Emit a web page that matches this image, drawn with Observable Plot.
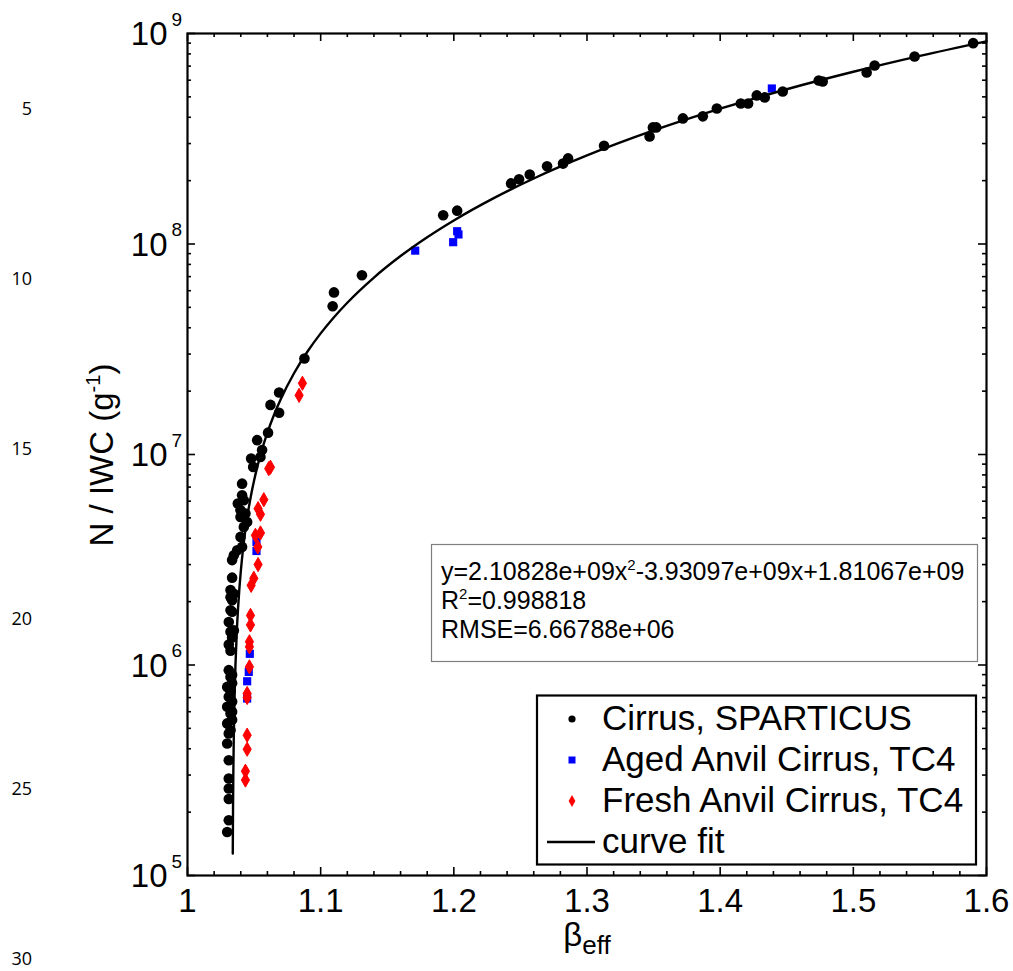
<!DOCTYPE html>
<html>
<head>
<meta charset="utf-8">
<script src="https://cdn.jsdelivr.net/npm/d3@7"></script>
<script src="https://cdn.jsdelivr.net/npm/@observablehq/plot@0.6"></script>
<style>
  html, body { margin: 0; padding: 0; background: #ffffff; }
  #chart svg { display: block; overflow: visible; }
</style>
</head>
<body>
<div id="chart"></div>
<script>
// ---------------- DATA ----------------
// Cirrus, SPARTICUS  (beta_eff, N/IWC in g^-1)
const sparticusBeta = [
  1.590, 1.546, 1.516, 1.510, 1.474, 1.477, 1.447, 1.4335, 1.4275, 1.421, 1.4155, 1.3975,
  1.387, 1.372, 1.3495, 1.347, 1.352, 1.3128, 1.2858, 1.282, 1.270, 1.257, 1.249, 1.243,
  1.2025, 1.192, 1.131, 1.110, 1.109, 1.0878,
  1.0688, 1.0623, 1.0688, 1.0605, 1.0523, 1.056, 1.0548, 1.0478, 1.0493, 1.041, 1.041, 1.0423,
  1.0378, 1.0398, 1.0435, 1.0398, 1.0448, 1.0423, 1.0398, 1.041, 1.0348, 1.0335, 1.0373, 1.0335,
  1.0323, 1.0348, 1.0335, 1.0323,
  1.0335, 1.0323, 1.0348, 1.0323, 1.031, 1.0323, 1.0298, 1.031, 1.0298, 1.0323, 1.0298, 1.031,
  1.0298, 1.031, 1.031, 1.031, 1.031, 1.031, 1.0298,
  1.0335, 1.0335, 1.0323, 1.0335, 1.0335, 1.0335, 1.0323, 1.031, 1.0335, 1.031, 1.0323
];
const sparticusNIWC = [
  9.0e8, 7.78e8, 7.05e8, 6.53e8, 5.98e8, 5.92e8, 5.3e8, 4.97e8, 5.08e8, 4.65e8, 4.65e8, 4.4e8,
  4.04e8, 3.95e8, 3.58e8, 3.24e8, 3.58e8, 2.93e8, 2.55e8, 2.41e8, 2.34e8, 2.14e8, 2.03e8, 1.94e8,
  1.44e8, 1.37e8, 7.1e7, 5.89e7, 5.06e7, 2.86e7,
  1.97e7, 1.72e7, 1.58e7, 1.27e7, 1.17e7, 1.05e7, 9.73e6, 9.57e6, 8.73e6, 7.27e6, 6.4e6, 6.06e6,
  5.85e6, 5.43e6, 5.24e6, 5.05e6, 4.78e6, 4.53e6, 4.06e6, 3.64e6, 3.32e6, 3.15e6, 3.51e6, 2.6e6,
  2.27e6, 2.18e6, 2.03e6, 1.82e6,
  1.79e6, 1.44e6, 1.46e6, 1.17e6, 9.45e5, 8.78e5, 7.87e5, 7.06e5, 6.33e5, 5.89e5, 5.28e5, 4.73e5,
  4.24e5, 3.53e5, 2.89e5, 2.59e5, 2.31e5, 1.83e5, 1.61e5,
  9.0e5, 8.2e5, 7.5e5, 6.7e5, 6.0e5, 5.5e5, 4.9e5, 1.25e6, 1.35e6, 1.6e6, 2.1e6
];

// Aged Anvil Cirrus, TC4
const agedBeta = [1.4388, 1.2025, 1.2035, 1.1995, 1.171, 1.0518, 1.0518, 1.0468, 1.046, 1.0448, 1.0448];
const agedNIWC = [5.48e8, 1.15e8, 1.11e8, 1.02e8, 9.3e7, 3.84e6, 3.48e6, 1.13e6, 9.27e5, 8.37e5, 6.93e5];

// Fresh Anvil Cirrus, TC4
const freshBeta = [
  1.0863, 1.0838, 1.061, 1.0623, 1.0573, 1.053, 1.0548, 1.051, 1.0548, 1.0528, 1.053, 1.0498,
  1.0478, 1.0473, 1.0473, 1.0465, 1.0465, 1.0465, 1.0448, 1.0448, 1.0448, 1.0448, 1.0435, 1.0435
];
const freshNIWC = [
  2.18e7, 1.91e7, 8.57e6, 8.7e6, 6.1e6, 5.53e6, 5.2e6, 4.13e6, 4.24e6, 3.64e6, 3.0e6, 2.58e6,
  2.39e6, 1.72e6, 1.55e6, 1.29e6, 1.22e6, 9.8e5, 7.32e5, 7.01e5, 4.64e5, 3.98e5, 3.13e5, 2.84e5
];

// Quadratic curve fit, coefficients as printed on the chart: y = a x^2 + b x + c
const fitCoefficients = [2.10828e9, -3.93097e9, 1.81067e9];
const fitBeta = [
  1.0340, 1.0341, 1.0342, 1.0344, 1.0347, 1.035, 1.0355, 1.036, 1.037, 1.038, 1.039, 1.04,
  1.042, 1.044, 1.046, 1.048, 1.05, 1.055, 1.06, 1.065, 1.07, 1.08, 1.09, 1.1, 1.11, 1.12,
  1.14, 1.16, 1.18, 1.2, 1.23, 1.26, 1.3, 1.35, 1.4, 1.45, 1.5, 1.55, 1.6
];

// Ticks and labels
const xMajorTicks = [1, 1.1, 1.2, 1.3, 1.4, 1.5, 1.6];
const xTickLabels = ["1", "1.1", "1.2", "1.3", "1.4", "1.5", "1.6"];
const xMinorTicks = [1.02, 1.04, 1.06, 1.08, 1.12, 1.14, 1.16, 1.18, 1.22, 1.24, 1.26, 1.28,
  1.32, 1.34, 1.36, 1.38, 1.42, 1.44, 1.46, 1.48, 1.52, 1.54, 1.56, 1.58];
const yMajorTicks = [1e5, 1e6, 1e7, 1e8, 1e9];
const yTickBases = ["10", "10", "10", "10", "10"];
const yTickExponents = ["5", "6", "7", "8", "9"];
const yMinorMultipliers = [2, 3, 4, 5, 6, 7, 8, 9];
const yMinorDecades = [1e5, 1e6, 1e7, 1e8];

const seriesLabels = ["Cirrus, SPARTICUS", "Aged Anvil Cirrus, TC4", "Fresh Anvil Cirrus, TC4", "curve fit"];
const fitTextLine1 = ["y=2.10828e+09x", "2", "-3.93097e+09x+1.81067e+09"];
const fitTextLine2 = ["R", "2", "=0.998818"];
const fitTextLine3 = "RMSE=6.66788e+06";
const yTitleParts = ["N / IWC (g", "-1", ")"];
const xTitleParts = ["\u03B2", "eff"];
const lineNumbers = ["5", "10", "15", "20", "25", "30"];

// ---------------- CHART ----------------
const W = 1013, H = 971;
const mTop = 33, mRight = 27, mBottom = 96, mLeft = 187;
const plotW = W - mLeft - mRight;
const plotH = H - mTop - mBottom;
const FONT = '"Liberation Sans", Arial, Helvetica, sans-serif';

const rows = (xs, ys) => xs.map((x, i) => ({x, y: ys[i]}));
const sparticus = rows(sparticusBeta, sparticusNIWC);
const aged = rows(agedBeta, agedNIWC);
const fresh = rows(freshBeta, freshNIWC);
const fit = fitBeta.map(x => ({x, y: fitCoefficients[0] * x * x + fitCoefficients[1] * x + fitCoefficients[2]}));
const yMinorTicks = yMinorDecades.flatMap(d => yMinorMultipliers.map(m => m * d));

const chart = Plot.plot({
  width: W,
  height: H,
  marginTop: mTop,
  marginRight: mRight,
  marginBottom: mBottom,
  marginLeft: mLeft,
  x: {domain: [1, 1.6], axis: null},
  y: {type: "log", domain: [1e5, 1e9], axis: null},
  style: {fontFamily: FONT, background: "#ffffff", color: "#000000"},
  marks: [
    Plot.dot(sparticus, {x: "x", y: "y", r: 5.3, symbol: "circle", fill: "#000000"}),
    Plot.dot(aged, {x: "x", y: "y", r: 4.6, symbol: "square", fill: "#0000ff"}),
    Plot.dot(fresh, {x: "x", y: "y", r: 4.3, symbol: "diamond", fill: "#ff0000", stroke: "#ff0000", strokeWidth: 1}),
    Plot.line(fit, {x: "x", y: "y", stroke: "#000000", strokeWidth: 2.4, curve: "monotone-x"}),
    // inward ticks on all four sides
    Plot.tickX(xMajorTicks, {x: d => d, insetTop: plotH - 8, stroke: "#000", strokeWidth: 1.6}),
    Plot.tickX(xMajorTicks, {x: d => d, insetBottom: plotH - 8, stroke: "#000", strokeWidth: 1.6}),
    Plot.tickX(xMinorTicks, {x: d => d, insetTop: plotH - 4, stroke: "#000", strokeWidth: 1.6}),
    Plot.tickX(xMinorTicks, {x: d => d, insetBottom: plotH - 4, stroke: "#000", strokeWidth: 1.6}),
    Plot.tickY(yMajorTicks, {y: d => d, insetRight: plotW - 8, stroke: "#000", strokeWidth: 1.6}),
    Plot.tickY(yMajorTicks, {y: d => d, insetLeft: plotW - 8, stroke: "#000", strokeWidth: 1.6}),
    Plot.tickY(yMinorTicks, {y: d => d, insetRight: plotW - 4, stroke: "#000", strokeWidth: 1.6}),
    Plot.tickY(yMinorTicks, {y: d => d, insetLeft: plotW - 4, stroke: "#000", strokeWidth: 1.6}),
    Plot.frame({stroke: "#000000", strokeWidth: 2.2}),
    // tick labels
    Plot.text(xMajorTicks, {x: d => d, frameAnchor: "bottom", text: (d, i) => xTickLabels[i],
      lineAnchor: "top", dy: 13, fontSize: 33, fill: "#000"}),
    Plot.text(yMajorTicks, {y: d => d, frameAnchor: "left", text: (d, i) => yTickBases[i],
      textAnchor: "end", lineAnchor: "middle", dx: -20, dy: 1, fontSize: 33, fill: "#000"}),
    Plot.text(yMajorTicks, {y: d => d, frameAnchor: "left", text: (d, i) => yTickExponents[i],
      textAnchor: "start", lineAnchor: "middle", dx: -16, dy: -14, fontSize: 19, fill: "#000"})
  ]
});

document.getElementById("chart").appendChild(chart);

// ---------------- annotations added to the SVG ----------------
const svg = d3.select(chart);
const g = svg.append("g").attr("font-family", FONT).attr("fill", "#000").attr("text-anchor", "start");

// y-axis title
const yt = g.append("text")
  .attr("transform", "translate(113,455) rotate(-90)")
  .attr("text-anchor", "middle")
  .attr("font-size", 33);
yt.append("tspan").text(yTitleParts[0]);
yt.append("tspan").attr("dy", -13).attr("font-size", 20).text(yTitleParts[1]);
yt.append("tspan").attr("dy", 13).text(yTitleParts[2]);

// x-axis title
const xt = g.append("text")
  .attr("x", 587).attr("y", 946)
  .attr("text-anchor", "middle")
  .attr("font-size", 33);
xt.append("tspan").text(xTitleParts[0]);
xt.append("tspan").attr("dy", 8).attr("font-size", 26).text(xTitleParts[1]);

// fit annotation box
const ann = g.append("g");
ann.append("rect").attr("x", 431.5).attr("y", 544.5).attr("width", 546).attr("height", 117)
  .attr("fill", "#ffffff").attr("stroke", "#7f7f7f").attr("stroke-width", 1.2);
const a1 = ann.append("text").attr("x", 441).attr("y", 580).attr("font-size", 25);
a1.append("tspan").text(fitTextLine1[0]);
a1.append("tspan").attr("dy", -10).attr("font-size", 15).text(fitTextLine1[1]);
a1.append("tspan").attr("dy", 10).text(fitTextLine1[2]);
const a2 = ann.append("text").attr("x", 441).attr("y", 609).attr("font-size", 25);
a2.append("tspan").text(fitTextLine2[0]);
a2.append("tspan").attr("dy", -10).attr("font-size", 15).text(fitTextLine2[1]);
a2.append("tspan").attr("dy", 10).text(fitTextLine2[2]);
ann.append("text").attr("x", 441).attr("y", 637.5).attr("font-size", 25).text(fitTextLine3);

// legend box
const lg = g.append("g");
lg.append("rect").attr("x", 537).attr("y", 695.5).attr("width", 439).attr("height", 169)
  .attr("fill", "#ffffff").attr("stroke", "#000000").attr("stroke-width", 2.2);
const rowBase = [730, 771, 812, 853];
seriesLabels.forEach((lab, i) => {
  lg.append("text").attr("x", 602).attr("y", rowBase[i]).attr("font-size", 35).text(lab);
});
lg.append("path").attr("transform", "translate(572,719)")
  .attr("d", d3.symbol(d3.symbolCircle, Math.PI * 3.6 * 3.6)()).attr("fill", "#000");
lg.append("path").attr("transform", "translate(572,760)")
  .attr("d", d3.symbol(d3.symbolSquare, 49)()).attr("fill", "#0000ff");
lg.append("path").attr("transform", "translate(572,801)")
  .attr("d", d3.symbol(d3.symbolDiamond, 40)()).attr("fill", "#ff0000");
lg.append("line").attr("x1", 547).attr("x2", 595).attr("y1", 842).attr("y2", 842)
  .attr("stroke", "#000").attr("stroke-width", 2.4);

// manuscript line numbers on the left margin
lineNumbers.forEach((n, i) => {
  g.append("text").attr("x", 32).attr("y", 115 + 170 * i).attr("text-anchor", "end")
    .attr("font-family", '"Open Sans", "DejaVu Sans", sans-serif').attr("font-size", 18).text(n);
});
</script>
</body>
</html>
